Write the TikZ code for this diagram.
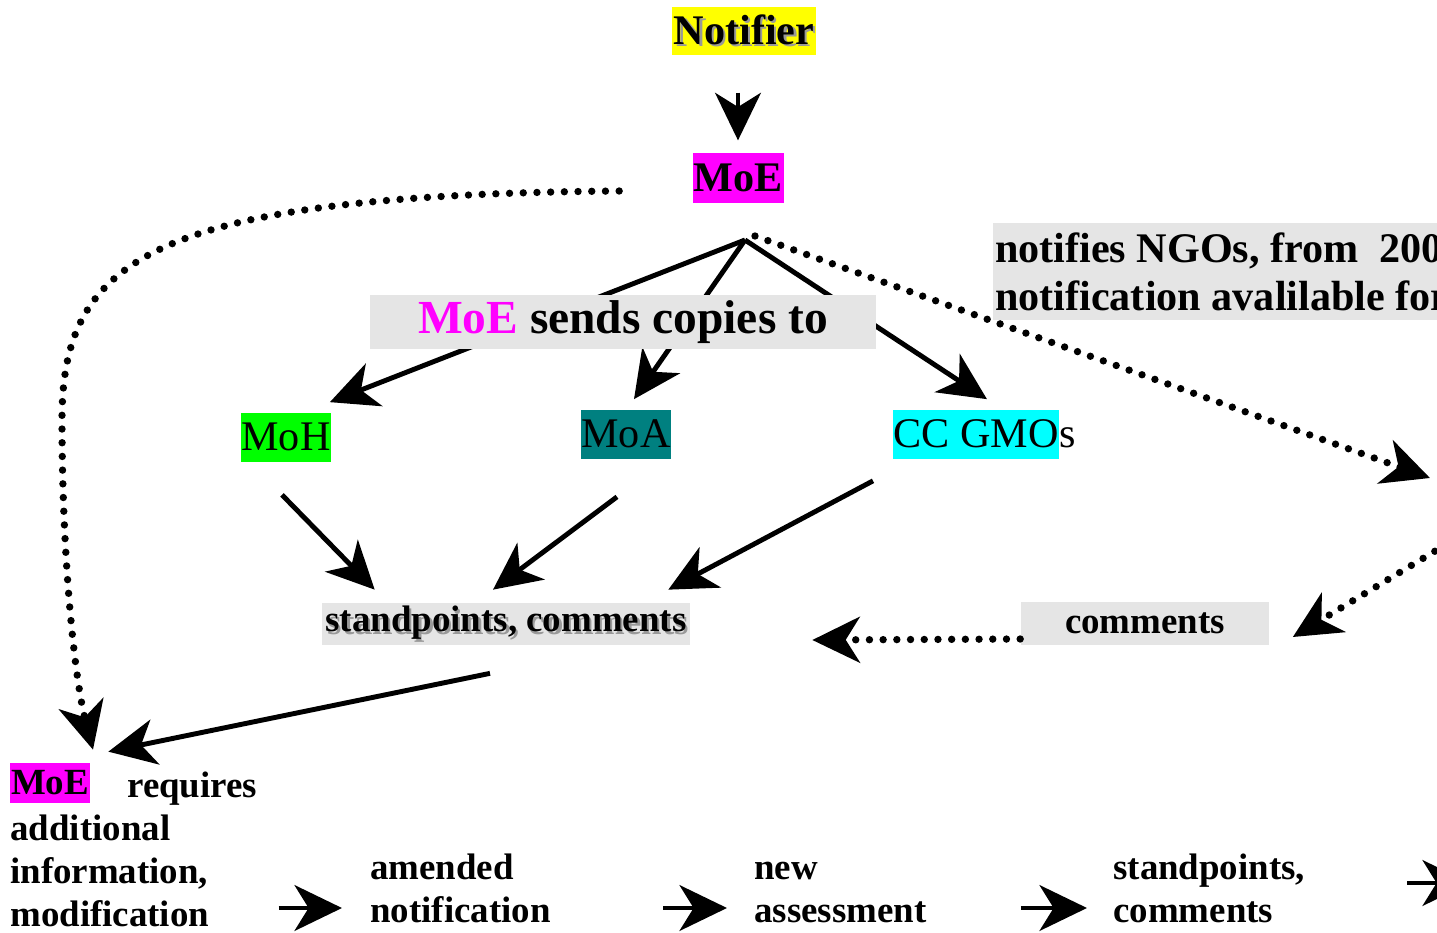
\documentclass[tikz,border=0pt]{standalone}
\usepackage{fontspec}
\setmainfont{Liberation Serif}
\usetikzlibrary{arrows.meta,positioning}
\definecolor{moemag}{RGB}{255,0,255}
\definecolor{mohgreen}{RGB}{0,255,0}
\definecolor{moateal}{RGB}{0,128,128}
\definecolor{cccyan}{RGB}{0,255,255}
\definecolor{notyellow}{RGB}{255,255,0}
\newcommand\shadowtxt[1]{\makebox[0pt][l]{\kern1.3pt\raisebox{-1.3pt}{\textcolor{black!40}{#1}}}#1}

\begin{document}
\begin{tikzpicture}[x=0.02cm,y=-0.02cm,
  arr/.style={line width=2.8pt,-{Stealth[length=27pt,width=26pt,inset=8pt]}},
  dotarr/.style={line width=4.2pt,line cap=round,dash pattern=on 0pt off 7.8pt,-{Stealth[length=27pt,width=26pt,inset=8pt]}},
  hl/.style={inner sep=0pt,font=\bfseries\fontsize{24}{28}\selectfont},
  plain/.style={inner sep=0pt,font=\fontsize{24}{28}\selectfont},
  grey/.style={fill=black!10,inner sep=0pt},
  lbl/.style={inner sep=0pt,align=left,font=\bfseries\fontsize{21}{24.4}\selectfont}]
\useasboundingbox (0,0) rectangle (1437,933);
\clip (0,0) rectangle (1437,933);

% top of the chain
\node[hl,fill=notyellow,minimum width=2.88cm,minimum height=0.98cm] (notifier) at (744,31) {\shadowtxt{Notifier}};
\node[hl,fill=moemag,minimum width=1.82cm,minimum height=1cm] (moe) at (738,178) {MoE};
\draw[arr,shorten <=21pt,shorten >=7pt] (notifier.south -| moe) -- (moe.north);

% the three ministries
\coordinate (fork) at (745,240);
\node[plain,fill=mohgreen,minimum width=1.78cm,minimum height=0.98cm] (moh) at (286,437) {MoH};
\node[plain,fill=moateal,minimum width=1.8cm,minimum height=0.98cm] (moa) at (626,434) {MoA};
\node[plain,fill=cccyan,anchor=west,minimum height=0.98cm] (ccgmo) at (893,434) {CC GMO};
\node[plain,anchor=base west] (ccs) at (ccgmo.base east) {s};
\draw[arr] (fork) -- ([shift={(-1,-10)}]moh.north east);
\draw[arr] (fork) -- ([shift={(8,-10)}]moa.north);
\draw[arr] (fork) -- ([shift={(11,-10)}]ccgmo.north);
\node[grey,minimum width=10.12cm,minimum height=1.1cm,font=\bfseries\fontsize{27}{32}\selectfont] (copies) at (623,322) {\textcolor{moemag}{MoE} sends copies to};

% NGOs
\coordinate (ngotip) at (1430,478);
\draw[dotarr] ([shift={(10,-4)}]fork) -- (ngotip);
\node[grey,anchor=north west,minimum height=1.94cm,inner xsep=1pt,align=left,font=\bfseries\fontsize{24}{27.8}\selectfont] (ngo) at (993,223) {notifies NGOs, from\ \ 200\\notification avalilable for};

% standpoints
\node[grey,minimum width=7.36cm,minimum height=0.84cm,font=\bfseries\fontsize{21}{24}\selectfont] (stand) at (506,624) {\shadowtxt{standpoints, comments}};
\node[grey,minimum width=4.98cm,minimum height=0.86cm,font=\bfseries\fontsize{21}{24}\selectfont] (comm) at (1145,623) {comments};
\draw[arr] ([shift={(-4,33)}]moh.south) -- ([shift={(53,-13)}]stand.north west);
\draw[arr] ([shift={(-9,38)}]moa.south) -- ([shift={(-13,-13)}]stand.north);
\draw[arr] ([shift={(-20,22)}]ccgmo.south west) -- ([shift={(-22,-13)}]stand.north east);
\coordinate (offright) at (1470,530);
\draw[dotarr] (offright) -- ([shift={(23,14)}]comm.east);
\draw[dotarr] ([shift={(0,16)}]comm.west) -- ([shift={(122,16)}]stand.east);

% back to the ministry
\node[hl,fill=moemag,minimum width=1.6cm,minimum height=0.8cm,font=\bfseries\fontsize{21}{24}\selectfont] (moe2) at (50,783) {MoE};
\node[lbl,anchor=base west] (req) at (127,797) {requires};
\draw[arr] ([shift={(-16,28)}]stand.south) -- ([shift={(18,-11)}]moe2.north east);
\draw[dotarr] ([shift={(-73,13)}]moe.west) .. controls (150,195) and (62,260) .. (62,420)
  .. controls (62,560) and (75,680) .. ([shift={(43,-13)}]moe2.north);

% bottom row
\node[lbl,anchor=base west] (addl) at (10,926) {additional\\information,\\modification};
\node[lbl,anchor=base west] (amended) at (370,922) {amended\\notification};
\node[lbl,anchor=base west] (newass) at (754,922) {new\\assessment};
\node[lbl,anchor=base west] (stand2) at (1113,922) {standpoints,\\comments};
\coordinate (offbottom) at (1470,883);
\draw[arr] ([shift={(69,-18)}]addl.base east) -- ([shift={(-28,-14)}]amended.base west);
\draw[arr] ([shift={(112,-14)}]amended.base east) -- ([shift={(-27,-14)}]newass.base west);
\draw[arr] ([shift={(94,-14)}]newass.base east) -- ([shift={(-26,-14)}]stand2.base west);
\draw[arr] ([shift={(102,-39)}]stand2.base east) -- (offbottom);
\end{tikzpicture}
\end{document}
